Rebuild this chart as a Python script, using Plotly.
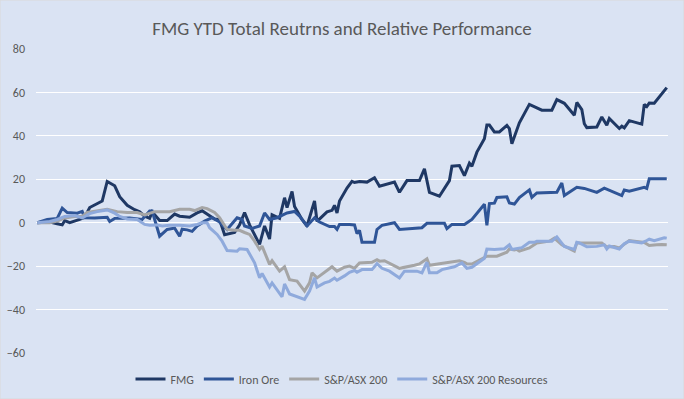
import plotly.graph_objects as go

# Trading-day index (0 = start of year) and cumulative return (%)
fmg_days = [0, 5, 8, 10, 11, 13, 17, 19, 21, 26, 28, 31, 33, 36, 39, 41, 43, 45, 46, 49, 52, 55, 57, 61, 64,
            66, 69, 71, 73, 75, 79, 81, 83, 85, 89, 91, 93, 94, 97, 99, 100, 102, 103, 106, 108, 111, 112, 115,
            116, 118, 119, 120, 121, 124, 126, 127, 129, 132, 135, 137, 143, 145, 148, 153, 155, 157, 161, 165,
            166, 169, 171, 173, 174, 176, 179, 180, 181, 183, 185, 188, 189, 190, 192, 193, 197, 202, 206, 208,
            211, 215, 216, 218, 219, 220, 224, 226, 228, 229, 233, 234, 235, 237, 242, 243, 244, 245, 247, 252]
fmg_vals = [0, 0.3, -0.5, -1, 1, 0, 1.5, 2.5, 7, 10, 19, 17, 12, 8, 6, 5, 3, 2, 5, 1, 1, 4, 3, 2.5, 4.5,
            5.5, 3.2, 1.7, 1.4, -5.5, -4.5, -1, 4.7, -1, -10, -1.5, -7.5, 3.7, 2, 11.5, 7, 14.4, 7.5, 1.5, -1.5,
            10, 0.6, 3.7, 5, 5.7, 8, 4.5, 10, 16, 19, 18.5, 19, 18.7, 20.7, 16.8, 18.7, 14, 19.4, 19.4, 24.8,
            14, 12.2, 19.4, 26, 26.3, 21.7, 27.4, 26, 32.5, 38.7, 45, 45, 41.8, 41.8, 44.8, 43.3, 36.4, 42.5,
            46, 54.5, 51.8, 51.8, 56.7, 55, 49.5, 55.4, 52.1, 45.6, 43.8, 44.1, 48.7, 44.9, 48, 43.4, 44.5,
            43.7, 47, 45.4, 54.5, 53.5, 55.1, 55, 62.2]

iron_days = [0, 4, 8, 10, 12, 16, 18, 19, 23, 28, 29, 31, 37, 42, 45, 46, 49, 52, 55, 57, 58, 60, 62, 64,
             67, 70, 73, 76, 80, 82, 83, 86, 89, 91, 93, 96, 100, 103, 105, 108, 111, 113, 117, 119, 120, 121,
             125, 127, 128, 129, 130, 135, 136, 138, 143, 145, 154, 156, 163, 164, 166, 171, 174, 179, 180,
             181, 183, 184, 188, 189, 191, 193, 197, 198, 200, 206, 208, 210, 211, 216, 219, 224, 227, 234,
             235, 237, 243, 244, 245, 252]
iron_vals = [0, 1.5, 2, 6.7, 4.7, 4.4, 5.2, 2.3, 2.2, 2.5, 0.6, 2, 2.2, 1.5, 5.4, 5.4, -6.2, -3.1, -2.5,
             -6.2, -3, -3.3, -4, -1.5, 0.7, 2.3, 0.3, -3.1, 2.3, 1.5, -1.5, -2.6, -1.5, 4.5, 1.5, 2.3, 4.5,
             5.2, 3, -1.5, 2.3, 0.3, -1.8, -1.8, -3.1, -0.8, -0.8, -1, -5, -3.5, -9, -9, -3.1, -1.2, 0, -3.1,
             -2.3, -0.3, -0.3, -2.7, -0.8, -0.8, 1.5, 8.5, -1.2, 8.8, 9, 11.6, 11.9, 9.1, 8.6, 11.6, 15.1,
             11.7, 13.7, 14, 14, 18.3, 12.5, 16.3, 15.8, 14, 15.9, 12.5, 15.1, 14.5, 16.3, 15.8, 20.2, 20.2]

asx_days = [0, 5, 8, 11, 15, 18, 20, 24, 28, 32, 36, 40, 43, 47, 51, 53, 57, 61, 63, 66, 68, 71, 73, 76,
            79, 81, 83, 85, 87, 89, 90, 93, 94, 97, 99, 101, 104, 107, 109, 110, 112, 115, 117, 118, 120, 123,
            125, 127, 129, 134, 136, 137, 139, 145, 151, 153, 156, 157, 161, 164, 169, 171, 172, 174, 176,
            180, 184, 188, 189, 191, 192, 193, 197, 200, 205, 207, 210, 215, 216, 221, 226, 228, 231, 233,
            237, 243, 245, 248, 250, 252]
asx_vals = [0, 0, 0.8, 2.2, 2.9, 2.9, 4.7, 5.6, 6.2, 5.1, 4.7, 4.7, 3.6, 5.1, 5.1, 5.1, 6.2, 6.2, 5.6, 7,
            6.5, 4.7, 2.3, -3.1, -3.5, -3.5, -4.5, -5.4, -8.5, -12.3, -10.8, -19.2, -17.5, -22.3, -20.3,
            -26.2, -26.9, -31.5, -27.7, -23.1, -25.4, -23, -21.5, -20.3, -22.3, -20.5, -20, -21, -18.5,
            -18.2, -17, -17.7, -17.5, -21, -19.6, -19, -16.6, -19.6, -18.9, -18.5, -17.5, -18.3, -18.9, -19,
            -17.7, -15.4, -15.4, -13.6, -12.1, -12.6, -12.3, -13.1, -11.6, -9.3, -8.5, -7.1, -10.2, -13.1,
            -9.3, -9.3, -9.3, -11.1, -11, -11.6, -8.2, -9.1, -10.5, -10.2, -10, -10.2]

res_days = [0, 5, 8, 11, 15, 18, 21, 24, 28, 31, 33, 36, 40, 43, 45, 48, 50, 53, 57, 61, 64, 66, 68, 69,
            72, 74, 76, 80, 81, 84, 87, 89, 90, 93, 94, 98, 99, 101, 107, 109, 111, 112, 115, 117, 119, 120,
            123, 125, 127, 128, 130, 134, 136, 138, 141, 145, 147, 152, 154, 156, 157, 160, 162, 165, 167,
            170, 172, 174, 179, 180, 183, 187, 189, 190, 192, 194, 197, 199, 200, 206, 208, 209, 211, 215,
            216, 217, 220, 224, 227, 228, 229, 233, 235, 237, 242, 244, 245, 247, 251, 252]
res_vals = [0, 0.6, 1.5, 2.9, 3.3, 2.2, 4.2, 5.1, 5.9, 4.4, 2.9, 1.7, 1.5, -0.8, -1.2, -1, -1.5, -1.2,
            -1.2, -1.5, -0.8, 0, 0, -2.3, -5.4, -8.5, -12.8, -13.1, -12, -12.3, -18.5, -25.4, -23.4, -29.6,
            -27.7, -34.1, -28.2, -32.8, -35.3, -31.5, -25.4, -29.6, -27.7, -27, -25.5, -26.5, -24.5, -22.8,
            -22, -22.8, -21.6, -21.6, -18.9, -21, -22.3, -25.4, -22.3, -22.3, -23.1, -18.2, -23.1, -23.1,
            -21.6, -21, -20.3, -18.5, -21, -20.5, -16.4, -12.1, -12.3, -12, -10.2, -12.3, -11.8, -11.5, -9,
            -9, -8.5, -8.5, -6.5, -7.8, -10.9, -12.3, -9, -9.3, -11.1, -10.9, -10.2, -12.1, -10.7, -12.1,
            -9.7, -8.5, -9.3, -8.2, -7.6, -8.3, -6.9, -7.1]

series = [
    ("FMG", fmg_days, fmg_vals, "#1F3864"),
    ("Iron Ore", iron_days, iron_vals, "#2F5597"),
    ("S&P/ASX 200", asx_days, asx_vals, "#A5A5A5"),
    ("S&P/ASX 200 Resources", res_days, res_vals, "#8FAADC"),
]

FONT = "Calibri, Carlito, Lato, 'Liberation Sans', sans-serif"
BG = "#DAE3F3"

fig = go.Figure()
for name, d, v, c in series:
    fig.add_trace(go.Scatter(x=d, y=v, name=name, mode="lines",
                             line=dict(color=c, width=3, shape="linear")))

fig.update_layout(
    width=684, height=399,
    paper_bgcolor=BG, plot_bgcolor=BG,
    margin=dict(l=36, r=16, t=49, b=46, autoexpand=False),
    font=dict(family=FONT, color="#595959", size=12),
    title=dict(text="FMG YTD Total Reutrns and Relative Performance",
               x=0.5, xanchor="center", xref="container", y=1 - 28 / 399, yanchor="middle",
               font=dict(family=FONT, size=19, color="#595959")),
    showlegend=True,
    legend=dict(orientation="h", xref="container", yref="container", x=0.5, xanchor="center",
                y=1 - 379 / 399, yanchor="middle",
                font=dict(family=FONT, size=12, color="#595959"),
                bgcolor="rgba(0,0,0,0)", itemwidth=30, traceorder="normal"),
    xaxis=dict(range=[-0.5, 252.5], showgrid=False, zeroline=False, showticklabels=False,
               showline=False, ticks=""),
    yaxis=dict(range=[-60, 80], dtick=20, tick0=0, showgrid=True, gridcolor="#FFFFFF", gridwidth=1,
               zeroline=False, showline=False, ticks="", ticklabelstandoff=10,
               tickfont=dict(family=FONT, size=12, color="#595959")),
    shapes=[dict(type="rect", xref="paper", yref="paper", x0=-36/632, x1=1 + 16/632,
                 y0=-46/304, y1=1 + 49/304, line=dict(color="#D9D9D9", width=1), fillcolor="rgba(0,0,0,0)")],
)

fig.write_html("out.html", config={"displayModeBar": False},
               post_script="document.body.style.margin='0';document.body.style.overflow='hidden';")
